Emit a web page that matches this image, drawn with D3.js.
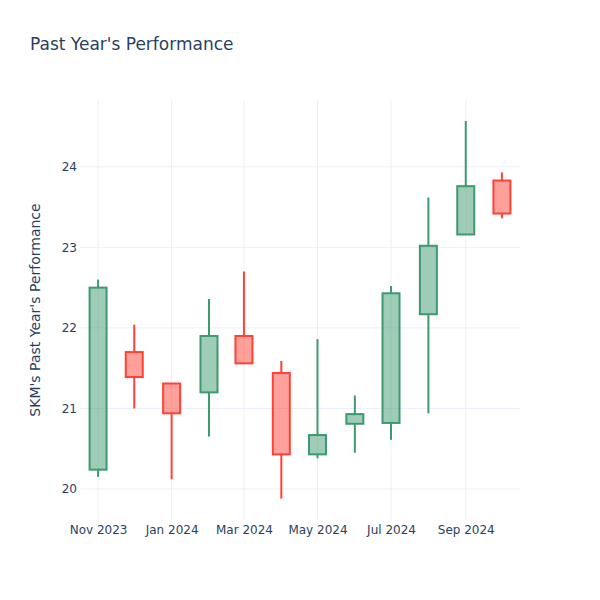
<!DOCTYPE html>
<html>
<head>
<meta charset="utf-8">
<script src="https://cdn.jsdelivr.net/npm/d3@7"></script>
<style>
  html, body { margin: 0; padding: 0; background: #fff; }
  svg { display: block; font-family: "DejaVu Sans", Verdana, sans-serif; }
</style>
</head>
<body>
<svg id="chart" width="600" height="600"></svg>
<script>
const dates = ["2023-11-01","2023-12-01","2024-01-01","2024-02-01","2024-03-01","2024-04-01","2024-05-01","2024-06-01","2024-07-01","2024-08-01","2024-09-01","2024-10-01"];
const opens  = [20.24, 21.70, 21.31, 21.20, 21.90, 21.44, 20.43, 20.81, 20.82, 22.17, 23.16, 23.83];
const highs  = [22.60, 22.04, 21.31, 22.36, 22.70, 21.59, 21.86, 21.16, 22.52, 23.62, 24.57, 23.93];
const lows   = [20.15, 21.00, 20.12, 20.65, 21.56, 19.88, 20.38, 20.45, 20.61, 20.94, 23.16, 23.36];
const closes = [22.50, 21.39, 20.94, 21.90, 21.56, 20.43, 20.67, 20.93, 22.43, 23.02, 23.76, 23.42];
const xTicks = ["2023-11-01","2024-01-01","2024-03-01","2024-05-01","2024-07-01","2024-09-01"];
const yTicks = [20, 21, 22, 23, 24];

const parse = d3.utcParse("%Y-%m-%d");
const data = dates.map((d, i) => ({date: parse(d), o: opens[i], h: highs[i], l: lows[i], c: closes[i]}));

const svg = d3.select("#chart");
const L = 80, R = 520, T = 100, B = 520;

const x = d3.scaleUtc()
  .domain([parse("2023-10-17"), parse("2024-10-16")])
  .range([L, R]);
const y = d3.scaleLinear()
  .domain([19.615, 24.83])
  .range([B, T]);

const textColor = "#2a3f5f";
const gridColor = "#EBF0F8";

// grid
svg.append("g").selectAll("line").data(yTicks).join("line")
  .attr("x1", L).attr("x2", R)
  .attr("y1", d => y(d)).attr("y2", d => y(d))
  .attr("stroke", gridColor).attr("stroke-width", 1);
svg.append("g").selectAll("line").data(xTicks).join("line")
  .attr("x1", d => x(parse(d))).attr("x2", d => x(parse(d)))
  .attr("y1", T).attr("y2", B)
  .attr("stroke", gridColor).attr("stroke-width", 1);

// axes
const fmt = d3.utcFormat("%b %Y");
const xAxis = d3.axisBottom(x).tickValues(xTicks.map(parse)).tickFormat(fmt).tickSize(0).tickPadding(5);
const gx = svg.append("g").attr("transform", `translate(0,${B})`).call(xAxis);
gx.select(".domain").remove();
gx.selectAll("text").attr("fill", textColor).style("font-size", "12px").style("font-family", '"DejaVu Sans", Verdana, sans-serif');

const yAxis = d3.axisLeft(y).tickValues(yTicks).tickFormat(d3.format("d")).tickSize(0).tickPadding(3);
const gy = svg.append("g").attr("transform", `translate(${L},0)`).call(yAxis);
gy.select(".domain").remove();
gy.selectAll("text").attr("fill", textColor).style("font-size", "12px").style("font-family", '"DejaVu Sans", Verdana, sans-serif');

// candles
const halfW = 8.5;
const g = svg.append("g");
data.forEach(d => {
  const up = d.c >= d.o;
  const line = up ? "#3D9970" : "#FF4136";
  const fill = up ? "rgba(61,153,112,0.5)" : "rgba(255,65,54,0.5)";
  const cx = x(d.date);
  const top = y(Math.max(d.o, d.c)), bot = y(Math.min(d.o, d.c));
  g.append("line")
    .attr("x1", cx).attr("x2", cx)
    .attr("y1", y(d.h)).attr("y2", top)
    .attr("stroke", line).attr("stroke-width", 2);
  g.append("line")
    .attr("x1", cx).attr("x2", cx)
    .attr("y1", bot).attr("y2", y(d.l))
    .attr("stroke", line).attr("stroke-width", 2);
  g.append("rect")
    .attr("x", cx - halfW).attr("y", top)
    .attr("width", halfW * 2).attr("height", Math.max(bot - top, 0.5))
    .attr("fill", fill).attr("stroke", line).attr("stroke-width", 2);
});

// title
svg.append("text")
  .attr("x", 30).attr("y", 50)
  .attr("fill", textColor)
  .style("font-size", "17px")
  .text("Past Year's Performance");

// y axis title
svg.append("text")
  .attr("transform", `translate(40,${(T + B) / 2}) rotate(-90)`)
  .attr("text-anchor", "middle")
  .attr("fill", textColor)
  .style("font-size", "14px")
  .text("SKM's Past Year's Performance");
</script>
</body>
</html>
